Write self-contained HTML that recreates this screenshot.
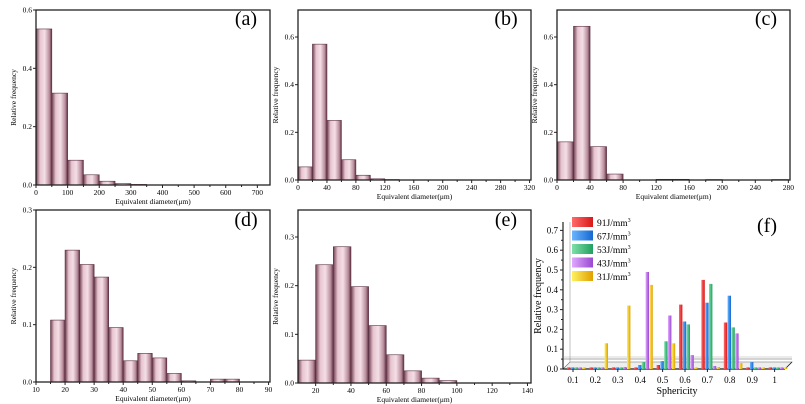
<!DOCTYPE html>
<html><head><meta charset="utf-8"><style>
body{margin:0;background:#fff;}
svg{display:block;font-family:"Liberation Serif",serif;}
</style></head><body>
<svg id="s" width="805" height="404" viewBox="0 0 805 404" xmlns="http://www.w3.org/2000/svg">
<defs>
<linearGradient id="bg" x1="0" x2="1" y1="0" y2="0">
<stop offset="0" stop-color="#6e3e50"/><stop offset="0.25" stop-color="#e7c4cf"/><stop offset="0.55" stop-color="#f4dfe6"/><stop offset="0.85" stop-color="#b88c9b"/><stop offset="1" stop-color="#5e3042"/>
</linearGradient>
<linearGradient id="gr" x1="0" x2="1"><stop offset="0" stop-color="#ff6b6b"/><stop offset="1" stop-color="#d81818"/></linearGradient>
<linearGradient id="gb" x1="0" x2="1"><stop offset="0" stop-color="#6ab4ff"/><stop offset="1" stop-color="#1468d0"/></linearGradient>
<linearGradient id="gg" x1="0" x2="1"><stop offset="0" stop-color="#7fe0a8"/><stop offset="1" stop-color="#20a060"/></linearGradient>
<linearGradient id="gp" x1="0" x2="1"><stop offset="0" stop-color="#e0a8ff"/><stop offset="1" stop-color="#9a48d0"/></linearGradient>
<linearGradient id="gy" x1="0" x2="1"><stop offset="0" stop-color="#fff060"/><stop offset="1" stop-color="#e0a000"/></linearGradient>
</defs>
</svg>
<script>
var s=document.getElementById('s'),NS="http://www.w3.org/2000/svg",h="";
function r(x,y,w,hh,f,st){h+='<rect x="'+x+'" y="'+y+'" width="'+w+'" height="'+hh+'" fill="'+f+'"'+(st?' stroke="'+st+'" stroke-width="0.6"':'')+'/>';}
function l(x1,y1,x2,y2,c,w){h+='<line x1="'+x1+'" y1="'+y1+'" x2="'+x2+'" y2="'+y2+'" stroke="'+(c||'#222')+'" stroke-width="'+(w||1)+'"/>';}
function t(x,y,str,sz,anc,extra){h+='<text x="'+x+'" y="'+y+'" font-size="'+sz+'" text-anchor="'+(anc||'middle')+'" '+(extra||'')+'>'+str+'</text>';}
function hist(o){
 var X=function(v){return o.x0+(v-o.xmin)/(o.xmax-o.xmin)*(o.x1-o.x0);};
 var Y=function(v){return o.y0-(v/o.ymaxv)*(o.y0-o.yv);};
 o.bars.forEach(function(b){var x=X(b[0]),w=X(b[0]+o.bw)-x,y=Y(b[1]);r(x,y,w,o.y0-y,'url(#bg)','#5a3042');});
 h+='<rect x="'+o.x0+'" y="'+o.top+'" width="'+(o.x1-o.x0)+'" height="'+(o.y0-o.top)+'" fill="none" stroke="#222" stroke-width="1.3"/>';
 o.xt.forEach(function(v,i){var x=X(v);l(x,o.y0,x,o.y0+3);t(x,o.y0+10,v,7.5);if(i<o.xt.length-1){var m=X(v+(o.xt[1]-o.xt[0])/2);if(m<o.x1)l(m,o.y0,m,o.y0+2);}});
 o.yt.forEach(function(v){var y=Y(v);l(o.x0-3,y,o.x0,y);t(o.x0-4,y+2.5,v.toFixed(1),7.5,'end');});
 t((o.x0+o.x1)/2,o.y0+19,'Equivalent diameter(μm)',7.5);
 t(0,0,'Relative frequency',7.5,'middle','transform="translate('+(o.x0-20)+','+((o.top+o.y0)/2)+') rotate(-90)"');
 t(o.lx,o.ly,o.lab,20);
}
hist({x0:36,x1:270,top:10,y0:185,xmin:0,xmax:740,ymaxv:0.6,yv:10,bw:50,
 bars:[[0,.535],[50,.315],[100,.085],[150,.035],[200,.013],[250,.005],[300,.002]],
 xt:[0,100,200,300,400,500,600,700],yt:[0,.2,.4,.6],lab:'(a)',lx:246,ly:25});
hist({x0:298,x1:531,top:10,y0:180,xmin:0,xmax:322,ymaxv:0.6,yv:37,bw:20,
 bars:[[0,.055],[20,.57],[40,.25],[60,.085],[80,.02],[100,.005],[120,.002]],
 xt:[0,40,80,120,160,200,240,280,320],yt:[0,.2,.4,.6],lab:'(b)',lx:506,ly:25});
hist({x0:557,x1:790,top:10,y0:180,xmin:0,xmax:282,ymaxv:0.6,yv:37,bw:20,
 bars:[[0,.16],[20,.645],[40,.14],[60,.025],[120,.003],[140,.003],[180,.002],[260,.002]],
 xt:[0,40,80,120,160,200,240,280],yt:[0,.2,.4,.6],lab:'(c)',lx:766,ly:25});
hist({x0:36,x1:270,top:210,y0:382,xmin:10,xmax:90.5,ymaxv:0.3,yv:210,bw:5,
 bars:[[15,.108],[20,.23],[25,.205],[30,.183],[35,.095],[40,.037],[45,.05],[50,.042],[55,.015],[60,.002],[70,.005],[75,.005]],
 xt:[10,20,30,40,50,60,70,80,90],yt:[0,.1,.2,.3],lab:'(d)',lx:246,ly:226});
hist({x0:298,x1:531,top:210,y0:383,xmin:10,xmax:142,ymaxv:0.3,yv:237,bw:10,
 bars:[[10,.047],[20,.243],[30,.28],[40,.198],[50,.118],[60,.058],[70,.025],[80,.01],[90,.005]],
 xt:[20,40,60,80,100,120,140],yt:[0,.1,.2,.3],lab:'(e)',lx:506,ly:226});
// panel f
(function(){
 var y0=369,sc=198,ax=563;
 var Y=function(v){return y0-v*sc;};
 h+='<polygon points="563,369 785,369 792,362 570,362" fill="#eee" stroke="#666" stroke-width="0.6"/>';
 l(570,362,570,222,'#999',0.6);
 l(ax,y0,ax,222,'#222',1.2);l(ax,y0,785,y0,'#222',1.2);l(785,y0,792,362,'#222',0.8);
 l(ax,359,792,359,'#555',0.6);l(ax,357,792,357,'#999',0.4);
 for(var i=0;i<=7;i++){var y=Y(i/10);l(ax-3,y,ax,y);t(ax-5,y+3,(i/10).toFixed(1),9,'end');if(i<7)l(ax-2,Y(i/10+.05),ax,Y(i/10+.05));}
 var g=['url(#gr)','url(#gb)','url(#gg)','url(#gp)','url(#gy)'];
 var d={1:[0,0,0,0,0],2:[0,0,0,0,.13],3:[0,0,0,.01,.32],4:[.005,.02,.035,.49,.425],5:[.02,.04,.14,.27,.13],6:[.325,.24,.225,.07,.005],7:[.45,.335,.43,.015,.01],8:[.235,.37,.21,.18,.03],9:[0,.035,0,0,0],10:[0,0,0,0,0]};
 for(var k=1;k<=10;k++){var cx=573+(k-1)*22.4;l(cx,y0,cx,y0+3);t(cx,y0+14,k==10?'1':(k/10).toFixed(1),9);
  d[k].forEach(function(v,j){var vv=Math.max(v,.008);var x=cx-6+j*3.5+(j*0.3);r(x.toFixed(1),Y(vv).toFixed(1),3.4,(vv*sc).toFixed(1),g[j]);});}
 t(677,394,'Sphericity',10);
 t(0,0,'Relative frequency',10,'middle','transform="translate(541,296) rotate(-90)"');
 var labs=['91J/mm<tspan font-size="6" dy="-4">3</tspan>','67J/mm<tspan font-size="6" dy="-4">3</tspan>','53J/mm<tspan font-size="6" dy="-4">3</tspan>','43J/mm<tspan font-size="6" dy="-4">3</tspan>','31J/mm<tspan font-size="6" dy="-4">3</tspan>'];
 labs.forEach(function(s,j){var y=217+j*13.5;r(572,y,21,10,g[j]);t(597,y+9,s,9.5,'start');});
 t(767,232,'(f)',20);
})();
s.insertAdjacentHTML('beforeend',h);
</script>
</body></html>
